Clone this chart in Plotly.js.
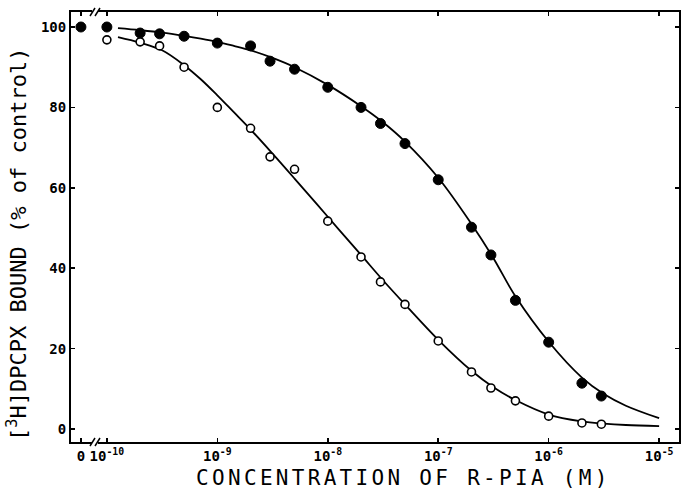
<!DOCTYPE html>
<html>
<head>
<meta charset="utf-8">
<script src="https://cdn.plot.ly/plotly-3.0.1.min.js"></script>
<style>html,body{margin:0;padding:0;background:#fff;}#chart{width:681px;height:490px;}</style>
</head>
<body>
<div id="chart"></div>
<script>
// Concentrations of R-PIA (M); 0 = no agonist (drawn left of the axis break)
var filledX = [0, 1e-10, 2e-10, 3e-10, 5e-10, 1e-9, 2e-9, 3e-9, 5e-9, 1e-8, 2e-8, 3e-8, 5e-8, 1e-7, 2e-7, 3e-7, 5e-7, 1e-6, 2e-6, 3e-6];
var filledY = [100, 100, 98.5, 98.3, 97.7, 96, 95.3, 91.5, 89.5, 85, 80, 76, 71, 62, 50.2, 43.3, 32, 21.6, 11.4, 8.2];
var openX = [1e-10, 2e-10, 3e-10, 5e-10, 1e-9, 2e-9, 3e-9, 5e-9, 1e-8, 2e-8, 3e-8, 5e-8, 1e-7, 2e-7, 3e-7, 5e-7, 1e-6, 2e-6, 3e-6];
var openY = [96.8, 96.3, 95.3, 90, 80, 74.8, 67.7, 64.6, 51.7, 42.8, 36.6, 31, 21.9, 14.2, 10.2, 7, 3.2, 1.5, 1.2];

// fitted curves
var fitX = [1.26e-10, 2e-10, 3.16e-10, 5e-10, 7.08e-10, 1e-9, 1.41e-9, 2e-9, 3.16e-9, 5e-9, 1e-8, 2e-8, 3.16e-8, 5e-8, 1e-7, 2e-7, 3.16e-7, 5e-7, 1e-6, 2e-6, 3.16e-6, 5e-6, 1e-5];
var filledFitY = [99.7, 99.2, 98.6, 97.8, 97.1, 96.3, 95.3, 94.2, 92.3, 90.0, 85.6, 80.3, 76.3, 71.5, 62.5, 51.0, 42.5, 33.0, 21.7, 12.8, 8.7, 5.8, 2.7];
var openFitY = [97.5, 96.1, 94.2, 90.5, 87.0, 83.0, 78.8, 74.5, 68.5, 62.3, 52.8, 43.3, 37.0, 31.0, 22.2, 14.5, 10.4, 7.2, 3.6, 1.9, 1.35, 1.0, 0.7];

var xTickVals = [0, 1e-10, 1e-9, 1e-8, 1e-7, 1e-6, 1e-5];
var xTickText = ['0', '10<sup>-10</sup>', '10<sup>-9</sup>', '10<sup>-8</sup>', '10<sup>-7</sup>', '10<sup>-6</sup>', '10<sup>-5</sup>'];
var yTickVals = [0, 20, 40, 60, 80, 100];
var xTitle = 'CONCENTRATION OF R-PIA (M)';
var yTitle = '[<sup>3</sup>H]DPCPX BOUND (% of control)';

var ZERO_POS = 5.82e-11; // where "0" sits on the broken log axis
function pos(v) { return v === 0 ? ZERO_POS : v; }

var traces = [
  {x: fitX, y: filledFitY, mode: 'lines', line: {color: '#000', width: 1.8, shape: 'spline', smoothing: 1}, hoverinfo: 'skip'},
  {x: fitX, y: openFitY, mode: 'lines', line: {color: '#000', width: 1.8, shape: 'spline', smoothing: 1}, hoverinfo: 'skip'},
  {x: filledX.map(pos), y: filledY, mode: 'markers', marker: {symbol: 'circle', size: 10, color: '#000', line: {color: '#000', width: 1}}},
  {x: openX.map(pos), y: openY, mode: 'markers', marker: {symbol: 'circle', size: 8, color: '#fff', line: {color: '#000', width: 1.6}}}
];

var L = 71, R = 2, T = 12, B = 48, W = 681, H = 490;
var pw = W - L - R, ph = H - T - B;
var bx = (95 - L) / pw;
function px(d) { return d / pw; }
function py(d) { return d / ph; }
var shapes = [];
[0, 1].forEach(function (yy) {
  shapes.push({type: 'line', xref: 'paper', yref: 'paper', x0: bx - px(3), x1: bx + px(3), y0: yy, y1: yy, line: {color: '#fff', width: 4}});
  [-2.5, 2.5].forEach(function (o) {
    shapes.push({type: 'line', xref: 'paper', yref: 'paper', x0: bx + px(o - 2.5), x1: bx + px(o + 2.5), y0: yy - py(4), y1: yy + py(4), line: {color: '#000', width: 1.5}});
  });
});

var layout = {
  width: W, height: H,
  margin: {l: L, r: R, t: T, b: B, pad: 0},
  paper_bgcolor: '#fff', plot_bgcolor: '#fff',
  showlegend: false,
  xaxis: {
    type: 'log', range: [-10.325, -4.82],
    tickvals: xTickVals.map(pos), ticktext: xTickText,
    ticks: 'inside', ticklen: 4, tickwidth: 1.5, tickcolor: '#000',
    showline: true, linecolor: '#000', linewidth: 2, mirror: 'ticks',
    showgrid: false, zeroline: false,
    tickfont: {family: 'DejaVu Sans Mono', size: 14, color: '#000', weight: 'bold'}
  },
  yaxis: {
    range: [-3.23, 103.73],
    tickvals: yTickVals,
    ticks: 'inside', ticklen: 4, tickwidth: 1.5, tickcolor: '#000',
    showline: true, linecolor: '#000', linewidth: 2, mirror: 'ticks',
    showgrid: false, zeroline: false,
    tickfont: {family: 'DejaVu Sans Mono', size: 14, color: '#000', weight: 'bold'}
  },
  annotations: [
    {text: xTitle, xref: 'paper', yref: 'paper', x: (403 - L) / pw, y: (T + ph - 478) / ph, xanchor: 'center', yanchor: 'middle', showarrow: false,
     font: {family: 'DejaVu Sans Mono', size: 21, color: '#000'}},
    {text: yTitle, xref: 'paper', yref: 'paper', x: (17 - L) / pw, y: (T + ph - 245) / ph, xanchor: 'center', yanchor: 'middle', showarrow: false, textangle: -90,
     font: {family: 'DejaVu Sans Mono', size: 22, color: '#000'}}
  ],
  shapes: shapes
};

Plotly.newPlot('chart', traces, layout, {staticPlot: true, displayModeBar: false}).then(function () {
  var t = document.querySelectorAll('g.annotation[data-index="0"] text');
  t.forEach(function (n) { n.style.letterSpacing = '3.3px'; });
});
</script>
</body>
</html>
